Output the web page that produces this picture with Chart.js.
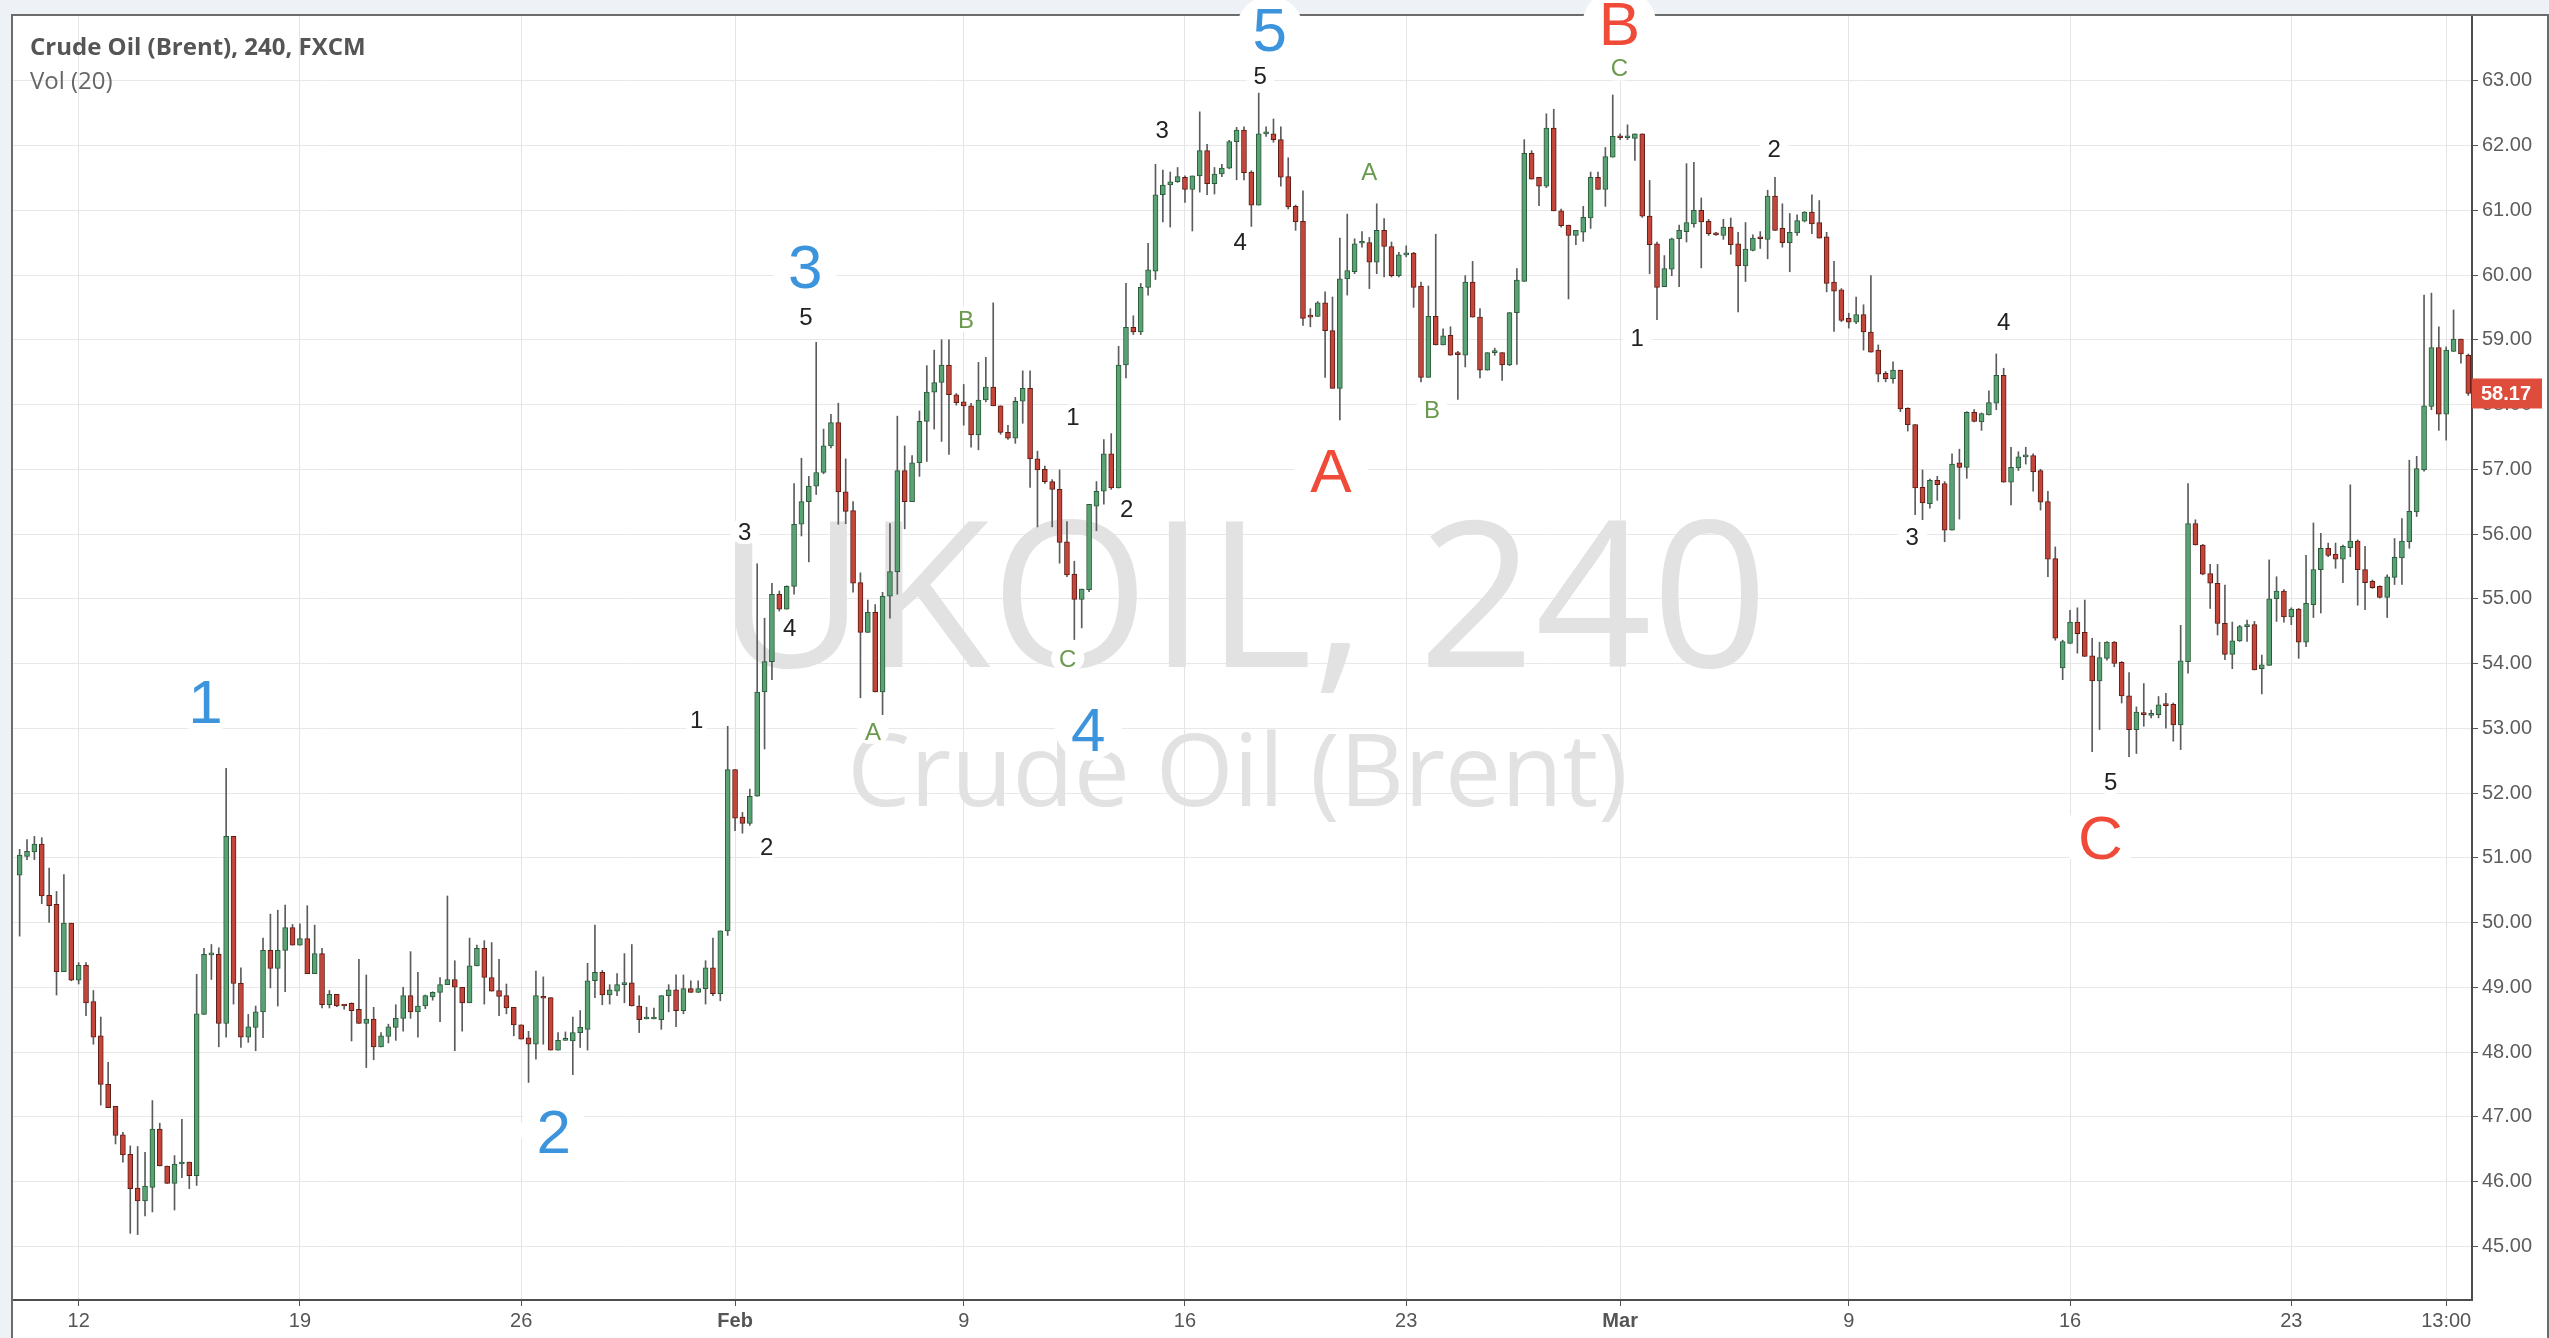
<!DOCTYPE html>
<html>
<head>
<meta charset="utf-8">
<title>Crude Oil (Brent), 240, FXCM</title>
<script src="https://cdn.jsdelivr.net/npm/chart.js@4.4.0/dist/chart.umd.min.js"></script>
<style>
  html, body { margin: 0; padding: 0; background: #fff; }
  #wrap { width: 2549px; height: 1338px; }
</style>
</head>
<body>
<div id="wrap"><canvas id="ohlcChart"></canvas></div>
<script>
// 4h candles, Fri Jan 9 -> Fri Mar 27
const open = [
  50.73, 51.02, 51.09, 51.21, 50.42, 50.28, 49.24, 49.99, 49.11, 49.34,
  48.78, 48.25, 47.50, 47.16, 46.72, 46.42, 45.90, 45.70, 45.91, 46.81,
  46.24, 45.97, 46.27, 46.30, 46.09, 48.58, 49.50, 49.51, 48.44, 51.33,
  49.06, 48.23, 48.38, 48.62, 49.57, 49.29, 49.57, 49.92, 49.65, 49.75,
  49.21, 49.52, 48.73, 48.89, 48.73, 48.75, 48.66, 48.44, 48.51, 48.08,
  48.24, 48.38, 48.52, 48.87, 48.62, 48.71, 48.85, 48.92, 49.04, 49.12,
  49.00, 48.76, 49.33, 49.60, 49.15, 48.95, 48.87, 48.69, 48.42, 48.22,
  48.12, 48.86, 48.84, 48.03, 48.18, 48.17, 48.30, 48.35, 49.10, 49.23,
  48.88, 48.94, 49.04, 49.07, 48.71, 48.51, 48.51, 48.50, 48.87, 48.96,
  48.64, 48.98, 48.92, 48.98, 49.30, 48.90, 49.87, 52.36, 51.63, 51.53,
  51.95, 53.56, 54.03, 55.07, 54.84, 55.19, 56.15, 56.50, 56.74, 56.95,
  57.36, 57.72, 56.65, 56.36, 55.25, 54.48, 54.79, 53.56, 55.04, 55.42,
  56.98, 56.50, 57.10, 57.74, 58.19, 58.34, 58.61, 58.15, 58.04, 57.98,
  57.53, 58.07, 58.27, 57.98, 57.57, 57.48, 58.05, 58.25, 57.16, 57.00,
  56.81, 56.69, 55.88, 55.38, 54.99, 55.14, 56.43, 56.66, 57.24, 56.71,
  58.61, 59.19, 59.12, 59.81, 60.06, 61.24, 61.39, 61.44, 61.51, 61.32,
  61.53, 61.92, 61.41, 61.56, 61.65, 62.06, 62.24, 61.59, 61.08, 62.18,
  62.18, 62.09, 61.52, 61.06, 60.83, 59.37, 59.36, 59.57, 59.14, 58.25,
  59.94, 60.05, 60.49, 60.50, 60.20, 60.69, 60.44, 59.99, 60.31, 60.34,
  59.83, 58.42, 59.36, 58.92, 59.07, 58.78, 58.76, 59.89, 59.35, 58.53,
  58.80, 58.80, 58.61, 59.42, 59.90, 61.88, 61.51, 61.37, 62.27, 60.99,
  60.77, 60.61, 60.66, 60.88, 61.51, 61.32, 61.82, 62.14, 62.12, 62.11,
  62.18, 60.91, 60.48, 59.82, 60.09, 60.56, 60.67, 60.79, 61.00, 60.83,
  60.65, 60.61, 60.74, 60.48, 60.14, 60.38, 60.57, 60.55, 61.22, 60.72,
  60.50, 60.65, 60.83, 60.97, 60.81, 60.59, 59.89, 59.77, 59.33, 59.27,
  59.39, 59.12, 58.84, 58.48, 58.40, 58.53, 57.94, 57.69, 56.72, 56.47,
  56.83, 56.78, 56.06, 57.10, 57.03, 57.88, 57.73, 57.84, 58.02, 58.45,
  56.80, 57.02, 57.19, 57.21, 56.98, 56.50, 55.62, 53.93, 54.31, 54.64,
  54.48, 54.12, 53.73, 54.08, 54.33, 54.02, 53.50, 52.98, 53.23, 53.20,
  53.21, 53.37, 53.37, 53.05, 54.03, 56.16, 55.83, 55.39, 55.24, 54.62,
  54.14, 54.35, 54.57, 54.60, 53.92, 53.97, 55.00, 55.12, 54.72, 54.84,
  54.33, 54.91, 55.45, 55.78, 55.69, 55.61, 55.79, 55.89, 55.45, 55.27,
  55.19, 55.02, 55.33, 55.63, 55.88, 56.34, 56.99, 57.97, 58.88, 57.85,
  58.82, 59.01, 58.76
];
const high = [
  51.13, 51.28, 51.33, 51.31, 50.84, 50.48, 50.74, 49.99, 49.38, 49.38,
  48.95, 48.54, 47.84, 47.16, 46.76, 46.55, 46.54, 46.45, 47.25, 46.90,
  46.24, 46.40, 46.96, 46.30, 49.20, 49.60, 49.66, 49.61, 52.38, 51.33,
  49.30, 48.58, 48.71, 49.76, 50.13, 50.19, 50.27, 49.97, 49.98, 50.26,
  49.96, 49.60, 48.95, 48.89, 48.73, 48.76, 49.43, 49.19, 48.69, 48.30,
  48.43, 48.73, 49.00, 49.55, 49.23, 48.88, 48.93, 49.15, 50.41, 49.41,
  49.00, 49.76, 49.65, 49.72, 49.69, 49.43, 49.05, 48.69, 48.42, 48.32,
  49.25, 49.16, 48.84, 48.30, 48.31, 48.54, 48.64, 49.37, 49.96, 49.26,
  49.04, 49.21, 49.52, 49.66, 48.87, 48.69, 48.68, 48.87, 49.04, 49.19,
  49.19, 49.10, 49.10, 49.41, 49.76, 49.87, 53.03, 52.36, 51.70, 52.06,
  55.54, 54.70, 55.24, 55.12, 55.20, 56.78, 57.17, 56.89, 58.96, 57.62,
  57.85, 58.02, 57.16, 56.50, 55.40, 54.98, 54.91, 55.10, 56.16, 57.82,
  57.36, 57.21, 57.90, 58.60, 58.84, 59.00, 59.00, 58.17, 58.31, 58.02,
  58.65, 58.73, 59.57, 57.98, 57.68, 58.11, 58.52, 58.52, 57.28, 57.05,
  56.84, 56.99, 56.19, 55.58, 55.15, 56.46, 56.81, 57.46, 57.55, 58.90,
  59.87, 59.37, 59.87, 60.49, 61.71, 61.62, 61.59, 61.66, 61.53, 61.53,
  62.52, 62.02, 61.66, 61.71, 62.08, 62.28, 62.29, 61.61, 62.81, 62.29,
  62.41, 62.29, 61.81, 61.08, 61.30, 59.48, 59.59, 59.74, 59.66, 60.57,
  60.94, 60.56, 60.67, 60.58, 61.10, 60.87, 60.51, 60.35, 60.45, 60.35,
  59.89, 59.83, 60.63, 59.17, 59.20, 58.82, 59.99, 60.21, 59.48, 58.80,
  58.87, 58.80, 59.42, 60.10, 62.09, 61.92, 61.51, 62.49, 62.56, 61.02,
  60.77, 60.69, 61.06, 61.59, 61.59, 61.97, 62.78, 62.18, 62.32, 62.18,
  62.18, 61.46, 60.51, 60.30, 60.57, 60.77, 61.72, 61.74, 61.19, 60.86,
  60.66, 60.86, 60.88, 60.66, 60.81, 60.62, 60.67, 61.31, 61.51, 61.10,
  60.95, 60.93, 60.98, 61.24, 61.15, 60.66, 60.21, 59.79, 59.41, 59.66,
  59.54, 59.99, 58.92, 58.51, 58.66, 58.53, 57.95, 57.69, 56.99, 56.85,
  56.89, 56.81, 57.24, 57.31, 57.89, 57.92, 57.87, 58.21, 58.78, 58.56,
  57.34, 57.27, 57.34, 57.24, 57.00, 56.66, 55.80, 54.36, 54.82, 54.86,
  54.98, 54.39, 54.33, 54.34, 54.34, 54.03, 53.86, 53.33, 53.69, 53.28,
  53.49, 53.54, 53.39, 54.59, 56.78, 56.22, 55.84, 55.53, 55.53, 55.21,
  54.64, 54.59, 54.67, 54.65, 54.13, 55.60, 55.34, 55.14, 54.86, 54.85,
  55.67, 56.17, 56.01, 55.86, 55.86, 55.83, 56.76, 55.91, 55.81, 55.29,
  55.20, 55.37, 55.93, 56.24, 57.14, 57.20, 59.69, 59.72, 59.20, 58.89,
  59.46, 59.01, 58.78
];
const low = [
  49.79, 50.97, 50.97, 50.29, 50.00, 48.88, 49.24, 49.10, 49.05, 48.56,
  48.12, 47.18, 47.14, 46.58, 46.30, 45.20, 45.18, 45.47, 45.53, 46.24,
  45.97, 45.56, 46.06, 45.89, 45.94, 48.58, 49.12, 48.08, 48.23, 48.74,
  48.07, 48.15, 48.02, 48.22, 48.99, 48.71, 48.93, 49.65, 49.65, 49.21,
  49.21, 48.68, 48.68, 48.70, 48.66, 48.17, 48.44, 47.76, 47.88, 48.08,
  48.14, 48.18, 48.32, 48.52, 48.23, 48.67, 48.80, 48.47, 49.04, 48.02,
  48.32, 48.76, 49.33, 48.74, 48.94, 48.56, 48.59, 48.25, 48.20, 47.53,
  47.89, 48.12, 48.03, 48.03, 48.18, 47.65, 48.07, 48.03, 48.84, 48.73,
  48.74, 48.87, 48.76, 48.71, 48.30, 48.51, 48.51, 48.35, 48.62, 48.39,
  48.59, 48.92, 48.92, 48.74, 48.87, 48.79, 49.80, 51.42, 51.38, 51.50,
  51.95, 52.68, 53.75, 54.81, 54.84, 55.07, 55.97, 55.57, 56.61, 56.93,
  57.33, 56.15, 56.16, 55.10, 53.47, 54.48, 53.56, 53.21, 54.70, 55.07,
  56.08, 56.50, 56.89, 57.12, 57.62, 57.43, 57.23, 57.99, 57.68, 57.34,
  57.30, 58.04, 57.98, 57.54, 57.46, 57.40, 57.71, 56.72, 56.11, 56.78,
  56.11, 55.55, 55.34, 54.37, 54.55, 55.11, 56.05, 56.46, 56.69, 56.71,
  58.41, 59.08, 59.08, 59.69, 59.93, 60.82, 60.74, 61.43, 61.12, 60.68,
  61.28, 61.24, 61.25, 61.52, 61.64, 61.47, 61.47, 60.75, 61.08, 62.14,
  62.05, 61.37, 61.02, 60.69, 59.22, 59.20, 59.36, 58.42, 58.25, 57.76,
  59.69, 60.02, 60.43, 59.79, 60.02, 59.97, 59.97, 59.97, 60.28, 59.50,
  58.35, 58.42, 58.92, 58.92, 58.76, 58.08, 58.58, 59.35, 58.41, 58.53,
  58.76, 58.37, 58.60, 58.62, 59.90, 61.48, 61.07, 61.35, 60.99, 60.74,
  59.63, 60.47, 60.52, 60.72, 61.32, 61.06, 61.82, 62.09, 62.09, 61.77,
  60.89, 60.02, 59.31, 59.82, 59.99, 59.82, 60.51, 60.74, 60.11, 60.61,
  60.61, 60.55, 60.32, 59.43, 59.90, 60.37, 60.41, 60.25, 60.69, 60.43,
  60.05, 60.61, 60.82, 60.64, 60.57, 59.74, 59.13, 59.28, 59.18, 59.25,
  58.84, 58.81, 58.35, 58.35, 58.33, 57.89, 57.59, 56.30, 56.22, 56.40,
  56.52, 55.88, 56.06, 56.23, 56.86, 57.73, 57.60, 57.84, 57.92, 56.80,
  56.45, 56.98, 57.08, 56.66, 56.37, 55.34, 54.36, 53.75, 54.31, 54.16,
  54.11, 52.64, 52.98, 54.05, 53.95, 53.39, 52.56, 52.61, 53.03, 53.16,
  53.16, 53.00, 52.80, 52.67, 53.85, 55.83, 55.37, 54.85, 54.44, 54.06,
  53.92, 54.34, 54.34, 53.90, 53.53, 53.97, 54.65, 54.64, 54.60, 54.08,
  54.26, 54.71, 54.78, 55.65, 55.47, 55.25, 55.65, 54.90, 54.83, 55.16,
  55.01, 54.71, 55.22, 55.22, 55.78, 56.27, 56.97, 57.92, 57.60, 57.45,
  58.82, 58.64, 58.14
];
const close = [
  51.04, 51.10, 51.21, 50.41, 50.26, 49.24, 49.99, 49.11, 49.34, 48.76,
  48.23, 47.50, 47.14, 46.71, 46.41, 45.89, 45.70, 45.93, 46.81, 46.24,
  45.97, 46.27, 46.29, 46.09, 48.59, 49.51, 49.52, 48.44, 51.33, 49.06,
  48.23, 48.39, 48.62, 49.57, 49.29, 49.57, 49.92, 49.65, 49.75, 49.21,
  49.52, 48.73, 48.89, 48.71, 48.71, 48.64, 48.44, 48.51, 48.08, 48.25,
  48.39, 48.52, 48.87, 48.62, 48.71, 48.87, 48.92, 49.04, 49.12, 49.00,
  48.76, 49.33, 49.60, 49.15, 48.94, 48.86, 48.68, 48.42, 48.20, 48.12,
  48.87, 48.83, 48.03, 48.18, 48.18, 48.30, 48.38, 49.10, 49.23, 48.88,
  48.96, 49.04, 49.07, 48.71, 48.50, 48.51, 48.51, 48.87, 48.96, 48.64,
  48.98, 48.92, 48.98, 49.30, 48.90, 49.87, 52.36, 51.61, 51.53, 51.95,
  53.56, 54.03, 55.07, 54.84, 55.19, 56.15, 56.50, 56.74, 56.95, 57.36,
  57.72, 56.65, 56.35, 55.24, 54.48, 54.79, 53.56, 55.04, 55.42, 56.98,
  56.50, 57.10, 57.74, 58.19, 58.34, 58.61, 58.15, 58.03, 57.98, 57.53,
  58.07, 58.27, 57.98, 57.57, 57.48, 58.05, 58.25, 57.16, 56.99, 56.81,
  56.69, 55.87, 55.37, 54.99, 55.15, 56.46, 56.66, 57.24, 56.71, 58.61,
  59.19, 59.12, 59.81, 60.08, 61.24, 61.39, 61.44, 61.52, 61.32, 61.53,
  61.92, 61.41, 61.56, 61.65, 62.06, 62.24, 61.58, 61.08, 62.18, 62.19,
  62.09, 61.51, 61.05, 60.82, 59.33, 59.35, 59.57, 59.14, 58.25, 59.94,
  60.07, 60.48, 60.50, 60.20, 60.69, 60.44, 59.99, 60.31, 60.33, 59.81,
  58.42, 59.36, 58.92, 59.06, 58.76, 58.77, 59.89, 59.35, 58.53, 58.80,
  58.80, 58.61, 59.42, 59.92, 61.88, 61.48, 61.37, 62.27, 60.99, 60.76,
  60.61, 60.69, 60.89, 61.51, 61.32, 61.83, 62.14, 62.12, 62.13, 62.18,
  60.91, 60.47, 59.81, 60.10, 60.56, 60.69, 60.81, 61.00, 60.82, 60.64,
  60.62, 60.74, 60.47, 60.14, 60.40, 60.57, 60.56, 61.22, 60.69, 60.50,
  60.66, 60.84, 60.97, 60.79, 60.57, 59.87, 59.75, 59.30, 59.27, 59.39,
  59.12, 58.81, 58.47, 58.40, 58.53, 57.93, 57.69, 56.71, 56.48, 56.83,
  56.76, 56.06, 57.08, 57.03, 57.88, 57.74, 57.86, 58.03, 58.45, 56.80,
  57.03, 57.19, 57.21, 56.96, 56.49, 55.61, 54.39, 54.34, 54.64, 54.46,
  54.11, 53.73, 54.09, 54.33, 54.00, 53.50, 52.98, 53.25, 53.21, 53.22,
  53.36, 53.35, 53.05, 54.04, 56.16, 55.83, 55.38, 55.24, 54.62, 54.14,
  54.35, 54.57, 54.59, 53.90, 53.98, 55.00, 55.12, 54.72, 54.84, 54.33,
  54.93, 55.45, 55.78, 55.67, 55.61, 55.81, 55.89, 55.45, 55.25, 55.17,
  55.02, 55.34, 55.64, 55.89, 56.35, 57.01, 57.98, 58.88, 57.85, 58.84,
  59.01, 58.78, 58.17
];

// time axis: candle index of each date label
const tickIdx = [8, 38, 68, 97, 128, 158, 188, 217, 248, 278, 308, 329];
const tickText = ["12", "19", "26", "Feb", "9", "16", "23", "Mar", "9", "16", "23", "13:00"];
const priceTicks = [45, 46, 47, 48, 49, 50, 51, 52, 53, 54, 55, 56, 57, 58, 59, 60, 61, 62, 63];

// Elliott wave labels: [text, candle index, price]
const impulseLabels = [["1", 25.2, 53.43], ["2", 72.4, 46.79], ["3", 106.5, 60.15], ["4", 144.9, 53.0], ["5", 169.5, 63.8]];
const correctionLabels = [["A", 177.8, 57.0], ["B", 216.9, 63.89], ["C", 282.1, 51.32]];
const minorLabels = [
  ["1", 91.8, 53.14], ["2", 101.3, 51.18], ["3", 98.3, 56.04], ["4", 104.4, 54.56], ["5", 106.6, 59.36],
  ["1", 142.8, 57.81], ["2", 150.1, 56.39], ["3", 154.9, 62.25], ["4", 165.5, 60.52], ["5", 168.2, 63.08],
  ["1", 219.3, 59.04], ["2", 237.9, 61.95], ["3", 256.6, 55.96], ["4", 269.0, 59.29], ["5", 283.5, 52.18]
];
const subLabels = [["A", 115.7, 52.95], ["B", 128.3, 59.32], ["C", 142.1, 54.08], ["A", 183.0, 61.6], ["B", 191.5, 57.92], ["C", 216.9, 63.2]];

const UP = "#58a274", UP_EDGE = "#2c5a3a";
const DOWN = "#c4463b", DOWN_EDGE = "#5e1c15";
const AXIS_FONT = '"Liberation Sans", Arial, sans-serif';

const isUp = close.map((c, i) => c >= open[i]);

function drawTag(ctx, text, x, y, size, weight, color, pad) {
  ctx.font = weight + " " + size + "px " + AXIS_FONT;
  const w = ctx.measureText(text).width;
  const h = size * 1.05;
  ctx.fillStyle = "#fff";
  ctx.beginPath();
  ctx.roundRect(x - w / 2 - pad, y - h / 2, w + pad * 2, h, h / 2);
  ctx.fill();
  ctx.fillStyle = color;
  ctx.textAlign = "center";
  ctx.textBaseline = "alphabetic";
  ctx.fillText(text, x, y + size * 0.36);
}

const chrome = {
  id: "chrome",
  beforeDraw(chart) {
    const { ctx, width, height, chartArea } = chart;
    ctx.save();
    ctx.fillStyle = "#fff";
    ctx.fillRect(0, 0, width, height);
    ctx.fillStyle = "#eef1f5";
    ctx.fillRect(0, 0, width, chartArea.top - 1);
    ctx.fillRect(0, 0, chartArea.left - 1, height);
    ctx.restore();
  },
  beforeDatasetsDraw(chart) {
    const { ctx, chartArea } = chart;
    const cx = chartArea.left + chartArea.width * 0.5;
    ctx.save();
    ctx.fillStyle = "#e2e2e2";
    ctx.textAlign = "center";
    ctx.textBaseline = "alphabetic";
    ctx.font = '204px "Open Sans"';
    ctx.fillText("UKOIL, 240", cx, chartArea.top + chartArea.height * 0.507);
    ctx.font = '100px "Open Sans"';
    ctx.fillText("Crude Oil (Brent)", cx - 5, chartArea.top + chartArea.height * 0.615);
    ctx.restore();
  },
  afterDraw(chart) {
    const { ctx, width, height, chartArea, scales } = chart;
    const xs = scales.x, ys = scales.y;
    ctx.save();
    // frame lines
    ctx.strokeStyle = "#6c6c6c";
    ctx.lineWidth = 2;
    ctx.beginPath();
    ctx.moveTo(chartArea.left - 1, height);
    ctx.lineTo(chartArea.left - 1, chartArea.top - 1);
    ctx.lineTo(width - 1, chartArea.top - 1);
    ctx.lineTo(width - 1, height);
    ctx.stroke();

    // wave labels
    minorLabels.forEach(([t, i, p]) => drawTag(ctx, t, xs.getPixelForValue(i), ys.getPixelForValue(p), 24, "normal", "#222", 8));
    subLabels.forEach(([t, i, p]) => drawTag(ctx, t, xs.getPixelForValue(i), ys.getPixelForValue(p), 24, "normal", "#6b9a4e", 8));
    impulseLabels.forEach(([t, i, p]) => drawTag(ctx, t, xs.getPixelForValue(i), ys.getPixelForValue(p), 62, "normal", "#3c94dc", 16));
    correctionLabels.forEach(([t, i, p]) => drawTag(ctx, t, xs.getPixelForValue(i), ys.getPixelForValue(p), 62, "normal", "#f04b38", 16));

    // legend text top-left
    ctx.textAlign = "left";
    ctx.textBaseline = "alphabetic";
    ctx.fillStyle = "#555";
    ctx.font = 'bold 24px "Open Sans"';
    ctx.fillText("Crude Oil (Brent), 240, FXCM", chartArea.left + 17, 55);
    ctx.fillStyle = "#666";
    ctx.font = '24px "Open Sans"';
    ctx.fillText("Vol (20)", chartArea.left + 17, 89);

    // last price tag
    const last = close[close.length - 1];
    const py = ys.getPixelForValue(last);
    ctx.fillStyle = "#de4d3b";
    ctx.fillRect(chartArea.right, py - 15, 70, 30);
    ctx.fillStyle = "#fff";
    ctx.font = "bold 20px " + AXIS_FONT;
    ctx.textBaseline = "middle";
    ctx.fillText(last.toFixed(2), chartArea.right + 9, py + 1);
    ctx.restore();
  }
};

const idx = close.map((c, i) => i);

new Chart(document.getElementById("ohlcChart").getContext("2d"), {
  type: "bar",
  data: {
    datasets: [
      {
        label: "wick",
        data: idx.map(i => ({ x: i, y: [low[i], high[i]] })),
        backgroundColor: "#5c5c5c",
        barThickness: 1,
        grouped: false,
        order: 2,
      },
      {
        label: "body",
        data: idx.map(i => ({ x: i, y: [open[i], close[i]] })),
        backgroundColor: isUp.map(u => (u ? UP : DOWN)),
        borderColor: isUp.map(u => (u ? UP_EDGE : DOWN_EDGE)),
        borderWidth: 1,
        borderSkipped: false,
        barThickness: 5,
        minBarLength: 2,
        grouped: false,
        order: 1,
      },
    ],
  },
  options: {
    responsive: true,
    maintainAspectRatio: false,
    animation: false,
    layout: { padding: { left: 13, top: 14, right: 0, bottom: 0 } },
    plugins: {
      legend: { display: false },
      tooltip: { enabled: false },
    },
    scales: {
      x: {
        type: "linear",
        min: -0.9,
        max: 332.5,
        offset: false,
        afterBuildTicks: axis => {
          axis.ticks = tickIdx.map(v => ({ value: v }));
        },
        afterFit: axis => {
          axis.height = 38;
        },
        ticks: {
          autoSkip: false,
          maxRotation: 0,
          padding: 3,
          color: "#555",
          callback: (v, i) => tickText[i],
          font: ctx => ({
            family: AXIS_FONT,
            size: 20,
            weight: tickText[ctx.index] === "Feb" || tickText[ctx.index] === "Mar" ? "bold" : "normal",
          }),
        },
        grid: { offset: false, color: "#e4e4e4", tickLength: 6, tickColor: "#555" },
        border: { color: "#4d4d4d", width: 2 },
      },
      y: {
        position: "right",
        min: 44.17,
        max: 64.0,
        afterBuildTicks: axis => {
          axis.ticks = priceTicks.map(v => ({ value: v }));
        },
        afterFit: axis => {
          axis.width = 77;
        },
        ticks: {
          padding: 4,
          color: "#5d5d5d",
          font: { family: AXIS_FONT, size: 20 },
          callback: v => v.toFixed(2),
        },
        grid: { color: "#e8e8e8", tickLength: 6, tickColor: "#555" },
        border: { color: "#4d4d4d", width: 2 },
      },
    },
  },
  plugins: [chrome],
});
</script>
</body>
</html>
